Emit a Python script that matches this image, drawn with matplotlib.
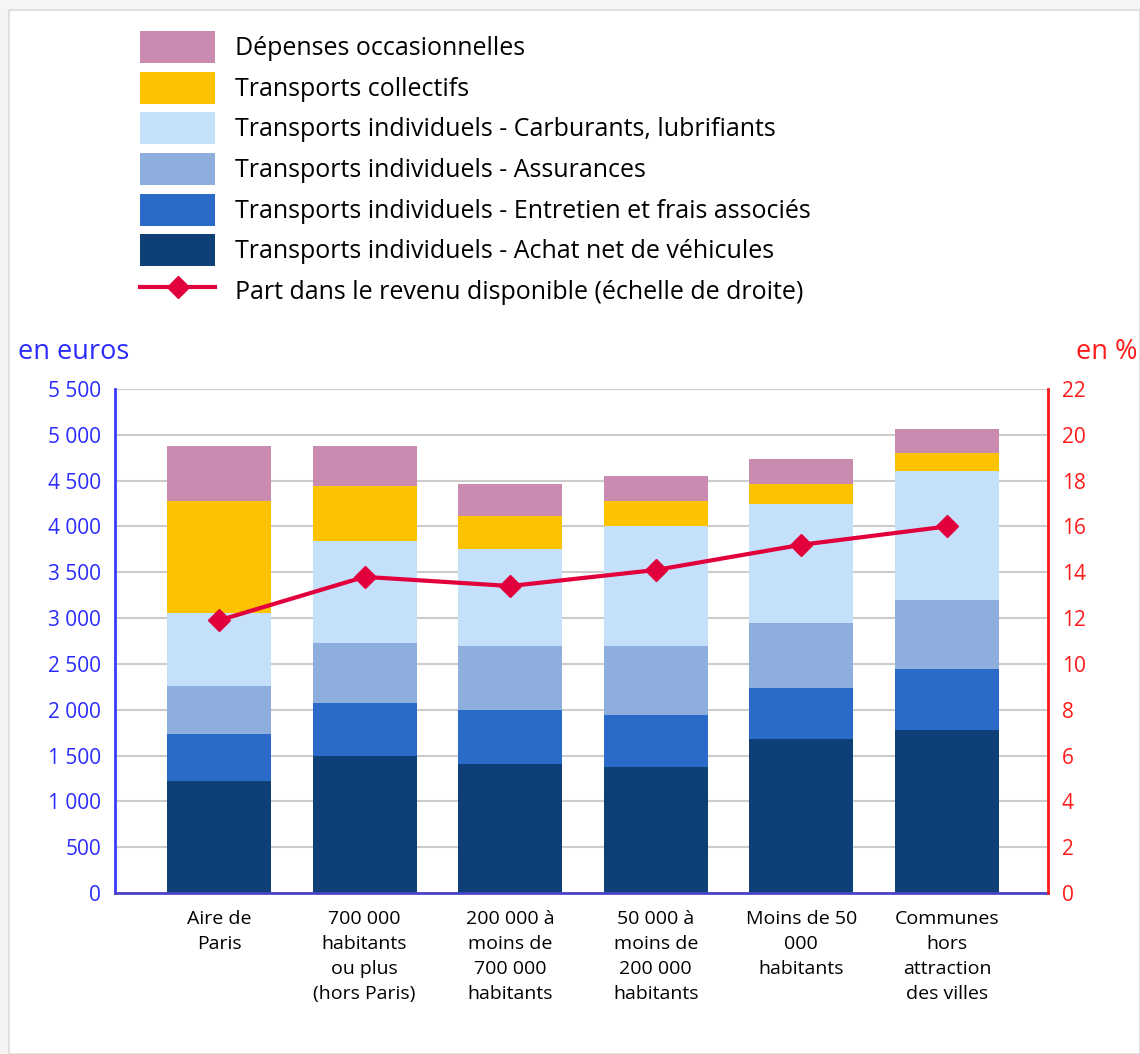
import matplotlib
matplotlib.use("Agg")
import matplotlib.pyplot as plt
import numpy as np
from matplotlib.patches import Rectangle, Patch
from matplotlib.lines import Line2D
from matplotlib.ticker import FuncFormatter

plt.rcParams['font.family'] = ['Open Sans', 'DejaVu Sans']

categories = ["Aire de\nParis", "700 000\nhabitants\nou plus\n(hors Paris)",
              "200 000 à\nmoins de\n700 000\nhabitants", "50 000 à\nmoins de\n200 000\nhabitants",
              "Moins de 50\n000\nhabitants", "Communes\nhors\nattraction\ndes villes"]
achat = [1220, 1500, 1405, 1380, 1680, 1780]
entretien = [515, 570, 595, 565, 555, 665]
assurances = [525, 660, 690, 745, 710, 755]
carburants = [800, 1115, 1060, 1310, 1305, 1400]
collectifs = [1220, 595, 365, 280, 210, 205]
occasionnelles = [600, 440, 345, 270, 275, 255]
part = [11.9, 13.8, 13.4, 14.1, 15.2, 16.0]

series_names = ["Transports individuels - Achat net de véhicules",
                "Transports individuels - Entretien et frais associés",
                "Transports individuels - Assurances",
                "Transports individuels - Carburants, lubrifiants",
                "Transports collectifs",
                "Dépenses occasionnelles"]
line_name = "Part dans le revenu disponible (échelle de droite)"
colors = ["#0f3f77", "#2a6bca", "#8eaedd", "#c5e0fb", "#fdc300", "#c98bb0"]
line_color = "#e1003c"

fig = plt.figure(figsize=(11.4, 10.54), dpi=100)
fig.patch.set_facecolor("#f5f5f5")
fig.patches.append(Rectangle((9/1140, 0), 1 - 9/1140, 1 - 10/1054, transform=fig.transFigure,
                             facecolor="white", edgecolor="#e0e0e0", linewidth=1.5, zorder=-10))

ax = fig.add_axes([115/1140, 1 - 893/1054, (1048 - 115)/1140, (893 - 389)/1054])
ax.set_facecolor("white")
x = np.arange(len(categories))
bottom = np.zeros(len(categories))
handles = []
for vals, col, name in zip([achat, entretien, assurances, carburants, collectifs, occasionnelles],
                           colors, series_names):
    ax.bar(x, vals, bottom=bottom, width=0.714, color=col, zorder=3)
    bottom += np.array(vals)
    handles.append(Patch(facecolor=col, label=name))

ax.set_xlim(-0.714, 5.694)
ax.set_ylim(0, 5500)
ax.set_yticks(np.arange(0, 5501, 500))
ax.yaxis.set_major_formatter(FuncFormatter(lambda v, p: f"{int(v):,}".replace(",", " ")))
ax.grid(axis="y", color="#cccccc", linewidth=1.5, zorder=0)
ax.set_axisbelow(True)
ax.set_xticks(x)
ax.set_xticklabels(categories, fontsize=14, linespacing=1.5, va="top")
ax.tick_params(axis="x", length=0, pad=12)
ax.tick_params(axis="y", length=0, pad=10, labelcolor="#2b2bff", labelsize=15)
for s in ["top", "right"]:
    ax.spines[s].set_visible(False)
ax.spines["left"].set_color("#3a3aff")
ax.spines["left"].set_linewidth(2)
ax.spines["bottom"].set_color("#4a45c8")
ax.spines["bottom"].set_linewidth(2)
ax.spines["bottom"].set_zorder(5)

ax2 = ax.twinx()
ax2.set_ylim(0, 22)
ax2.set_yticks(np.arange(0, 23, 2))
ax2.plot(x, part, color=line_color, linewidth=3, marker="D", markersize=11, zorder=6)
ax2.tick_params(axis="y", length=0, pad=10, labelcolor="#ff1a1a", labelsize=15)
for s in ["top", "left", "bottom"]:
    ax2.spines[s].set_visible(False)
ax2.spines["right"].set_color("#ff1a1a")
ax2.spines["right"].set_linewidth(2)

fig.text(18/1140, 1 - 352/1054, "en euros", color="#2b2bff", fontsize=19.5, va="center", ha="left")
fig.text(1138/1140, 1 - 352/1054, "en %", color="#ff1a1a", fontsize=19.5, va="center", ha="right")

leg_handles = handles[::-1] + [Line2D([0], [0], color=line_color, linewidth=3, marker="D",
                                      markersize=11, label=line_name)]
fig.legend(handles=leg_handles, loc="upper left", bbox_to_anchor=(140/1140, 1 - 31/1054),
           frameon=False, fontsize=18, handlelength=3.0, handleheight=1.6,
           labelspacing=0.34, handletextpad=0.8, borderpad=0, borderaxespad=0)

fig.savefig("out.png", dpi=100, facecolor=fig.get_facecolor())
